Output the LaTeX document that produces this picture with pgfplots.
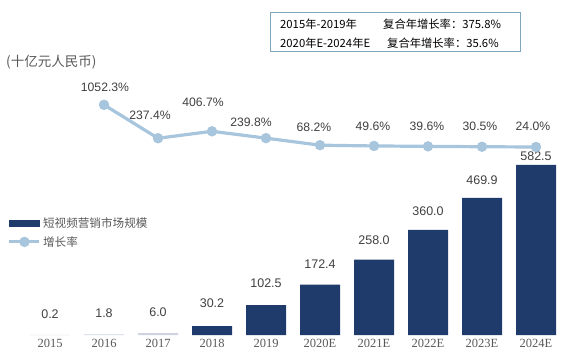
\documentclass[border=0pt]{standalone}
\usepackage{pgfplots}
\pgfplotsset{compat=1.18}
\usepackage{fontspec}
\setmainfont{Liberation Sans}
\newfontfamily\cjk{Noto Sans CJK SC}
\newfontfamily\serif{Liberation Serif}
\definecolor{navy}{HTML}{1F3B6B}
\definecolor{lightbar}{HTML}{CDD3DF}
\definecolor{lineblue}{HTML}{A7C5DD}
\definecolor{txtgray}{HTML}{404040}
\definecolor{lblgray}{HTML}{595959}
\definecolor{boxblue}{HTML}{7FA7BE}
\begin{document}
\begin{tikzpicture}
\begin{axis}[
  scale only axis, width=540bp, height=275bp,
  xmin=-0.5, xmax=9.5, ymin=0, ymax=942.3,
  axis line style={draw=none}, major tick length=0pt,
  ytick=\empty,
  xtick={0,1,2,3,4,5,6,7,8,9},
  xticklabels={2015,2016,2017,2018,2019,2020E,2021E,2022E,2023E,2024E},
  xticklabel style={font=\serif\fontsize{12.5bp}{14bp}\selectfont, text=lblgray, anchor=center, yshift=-8.5bp},
  ybar, bar width=40bp, bar shift=0pt,
  point meta=explicit symbolic,
  visualization depends on={\thisrow{yo}\as\yo},
  nodes near coords,
  nodes near coords style={font=\fontsize{12.5bp}{14bp}\selectfont, text=txtgray, anchor=center, yshift=\yo*1bp},
  clip=false,
]
\addplot[fill=lightbar, draw=none] table[x=x, y=y, meta=lab] {
x y lab yo
0 0.2 0.2 21
1 1.8 1.8 21
2 6.0 6.0 21
};
\addplot[fill=navy, draw=none] table[x=x, y=y, meta=lab] {
x y lab yo
3 30.2 30.2 23
4 102.5 102.5 22
5 172.4 172.4 21
6 258.0 258.0 20
7 360.0 360.0 19
8 469.9 469.9 18
9 582.5 582.5 8.5
};
\end{axis}
\begin{axis}[
  scale only axis, width=540bp, height=275bp,
  xmin=-0.5, xmax=9.5, ymin=-4561, ymax=2146,
  hide axis, clip=false,
  legend style={at={(-0.028,0.433)}, anchor=north west, draw=none, fill=none,
    font=\cjk\fontsize{11.6bp}{13bp}\selectfont, text=lblgray, row sep=3bp,
    inner sep=0pt, outer sep=0pt},
  legend cell align=left,
]
\addlegendimage{legend image code/.code={\fill[navy] (0bp,-3bp) rectangle (30bp,3bp);}}
\addlegendentry{短视频营销市场规模}
\addplot[color=lineblue, line width=3.2bp, mark=*, mark size=3.5bp, mark options={fill=lineblue, draw=lineblue},
  point meta=explicit symbolic,
  visualization depends on={\thisrow{yo}\as\yo},
  visualization depends on={\thisrow{xo}\as\xo},
  nodes near coords={\pgfplotspointmeta\%},
  nodes near coords style={font=\fontsize{12.2bp}{14bp}\selectfont, text=txtgray, anchor=center, yshift=\yo*1bp, xshift=\xo*1bp},
  legend image code/.code={\draw[lineblue, line width=3.2bp] (0bp,0bp) -- (30bp,0bp); \fill[lineblue] (15bp,0bp) circle (3.5bp);},
] table[x=x, y=y, meta=lab] {
x y lab yo xo
1 1052.3 1052.3 18 1
2 237.4 237.4 23 -8
3 406.7 406.7 29 -9
4 239.8 239.8 16 -15
5 68.2 68.2 18 -6
6 49.6 49.6 20 -1
7 39.6 39.6 20 -1
8 30.5 30.5 20 -2
9 24.0 24.0 21 -3
};
\addlegendentry{增长率}
\end{axis}
\node[anchor=west, font=\cjk\fontsize{13.5bp}{15bp}\selectfont, text=lblgray, inner sep=0pt] at (-17bp,273bp) {(十亿元人民币)};
\draw[boxblue, line width=0.8bp] (247bp,284bp) rectangle (497bp,323bp);
\begin{scope}[every node/.style={anchor=west, font=\cjk\fontsize{11.3bp}{13bp}\selectfont, text=black, inner sep=0pt}]
\node at (257bp,311bp) {2015年-2019年};
\node at (360bp,311bp) {复合年增长率：375.8\%};
\node at (257bp,292bp) {2020年E-2024年E};
\node at (364bp,292bp) {复合年增长率：35.6\%};
\end{scope}
\path[use as bounding box] (-23bp,-20bp) rectangle (544bp,335bp);
\end{tikzpicture}
\end{document}
